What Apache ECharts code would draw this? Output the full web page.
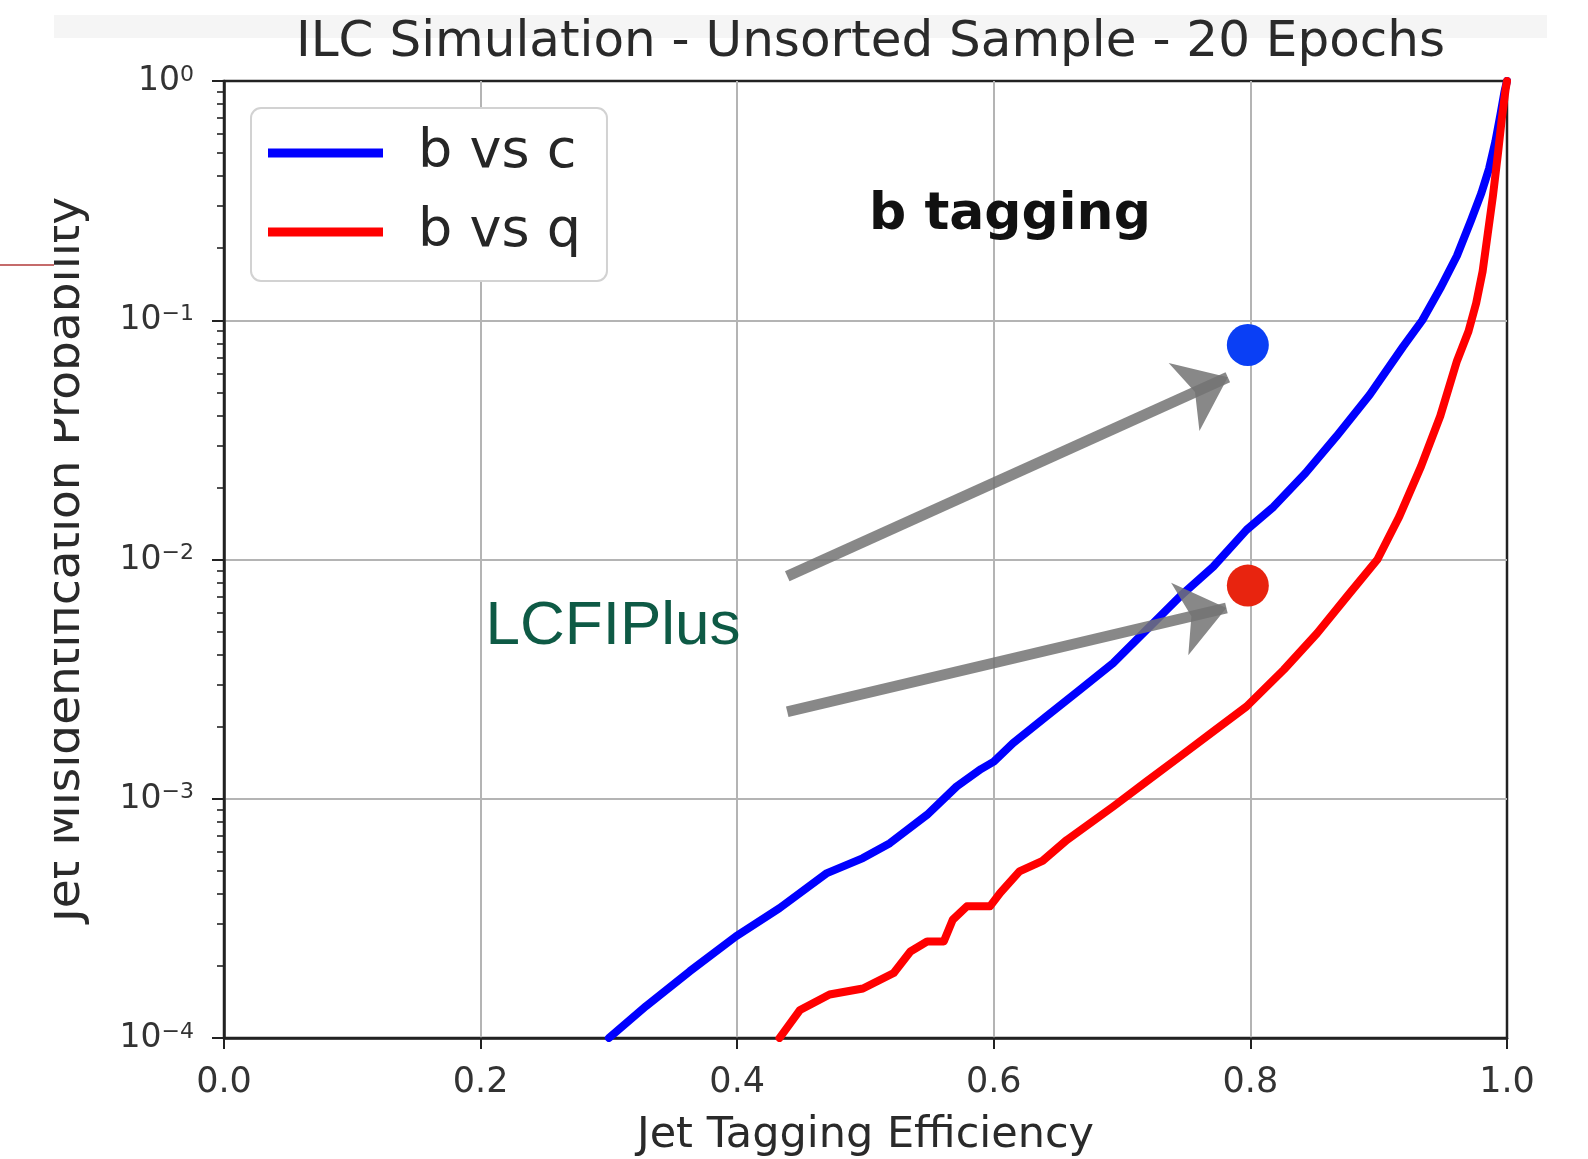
<!DOCTYPE html>
<html>
<head>
<meta charset="utf-8">
<script src="https://cdn.jsdelivr.net/npm/echarts@6/dist/echarts.min.js"></script>
<style>
html,body{margin:0;padding:0;background:#ffffff;}
#chart{width:1588px;height:1159px;}
</style>
</head>
<body>
<div id="chart"></div>
<script>
// ---- data ----
const titleText = 'ILC Simulation - Unsorted Sample - 20 Epochs';
const xName = 'Jet Tagging Efficiency';
const yName = 'Jet Misidentification Probability';
const seriesNames = ['b vs c', 'b vs q'];
const xTicks = [0, 0.2, 0.4, 0.6, 0.8, 1.0];
const yMajorTicks = [1e-4, 1e-3, 1e-2, 1e-1, 1];
const yMinorTicks = [];
[1e-4, 1e-3, 1e-2, 1e-1].forEach(function (d) { for (let k = 2; k <= 9; k++) yMinorTicks.push(+(d * k).toPrecision(3)); });

const bvsc = [
  [0.300, 1.0e-4], [0.329, 1.36e-4], [0.363, 1.90e-4], [0.399, 2.66e-4], [0.433, 3.49e-4],
  [0.470, 4.89e-4], [0.498, 5.65e-4], [0.519, 6.52e-4], [0.548, 8.57e-4], [0.571, 1.125e-3],
  [0.590, 1.33e-3], [0.600, 1.43e-3], [0.615, 1.71e-3], [0.641, 2.21e-3], [0.667, 2.85e-3],
  [0.693, 3.69e-3], [0.719, 5.08e-3], [0.745, 7.00e-3], [0.771, 9.33e-3], [0.797, 1.33e-2],
  [0.818, 1.66e-2], [0.843, 2.30e-2], [0.867, 3.27e-2], [0.893, 4.88e-2], [0.919, 7.76e-2],
  [0.934, 0.100], [0.948, 0.136], [0.961, 0.186], [0.972, 0.262], [0.980, 0.34],
  [0.986, 0.43], [0.991, 0.56], [0.995, 0.73], [0.998, 0.90], [1.0, 1.0]
];
const bvsq = [
  [0.433, 1.0e-4], [0.449, 1.31e-4], [0.472, 1.52e-4], [0.498, 1.61e-4], [0.522, 1.87e-4],
  [0.535, 2.30e-4], [0.548, 2.53e-4], [0.561, 2.53e-4], [0.568, 3.12e-4], [0.579, 3.55e-4],
  [0.597, 3.55e-4], [0.605, 4.04e-4], [0.620, 4.97e-4], [0.638, 5.50e-4], [0.657, 6.73e-4],
  [0.693, 9.27e-4], [0.719, 1.18e-3], [0.745, 1.50e-3], [0.771, 1.91e-3], [0.797, 2.43e-3],
  [0.826, 3.46e-3], [0.852, 4.92e-3], [0.876, 7.08e-3], [0.899, 1.0e-2], [0.916, 1.51e-2],
  [0.933, 2.45e-2], [0.948, 3.98e-2], [0.961, 6.76e-2], [0.970, 0.090], [0.976, 0.118],
  [0.981, 0.16], [0.985, 0.23], [0.989, 0.33], [0.993, 0.50], [0.996, 0.70], [0.999, 0.93], [1.0, 1.0]
];
const lcfiBvsc = [0.798, 0.0788];
const lcfiBvsq = [0.798, 0.00778];
const arrowStarts = [[0.439, 8.51e-3], [0.439, 2.31e-3]];
const arrowTips = [[0.7824, 0.0578], [0.7813, 6.27e-3]];
const lcfiLabel = { text: 'LCFIPlus', at: [0.3032, 5.23e-3] };
const tagLabel = { text: 'b tagging', at: [0.6126, 0.275] };

// ---- chart ----
const chart = echarts.init(document.getElementById('chart'), null, { renderer: 'canvas' });
const FONT = 'DejaVu Sans';
const GRID = { left: 224, top: 81, width: 1283, height: 957 };

function supLabel(v) {
  const e = Math.round(Math.log10(v));
  return '{b|10}{s|' + (e < 0 ? '\u2212' + (-e) : String(e)) + '}';
}

const option = {
  backgroundColor: '#ffffff',
  animation: false,
  title: {
    text: titleText,
    left: GRID.left + GRID.width / 2,
    textAlign: 'center',
    top: 13,
    textStyle: { fontFamily: FONT, fontSize: 50, fontWeight: 'normal', color: '#2a2a2a' }
  },
  legend: {
    data: seriesNames,
    orient: 'vertical',
    left: 251, top: 108,
    icon: 'rect',
    itemWidth: 115, itemHeight: 9,
    itemGap: 17,
    padding: [14, 26, 18, 17],
    backgroundColor: '#ffffff',
    borderColor: '#d2d2d2', borderWidth: 2, borderRadius: 10,
    textStyle: { fontFamily: FONT, fontSize: 54, color: '#262626', lineHeight: 62, padding: [0, 0, 0, 30] },
    selectedMode: false
  },
  grid: {
    left: GRID.left, top: GRID.top, width: GRID.width, height: GRID.height,
    outerBoundsMode: 'none', containLabel: false,
    show: true, borderColor: '#222', borderWidth: 2.5, backgroundColor: '#ffffff'
  },
  xAxis: {
    type: 'value', min: 0, max: 1, interval: 0.2,
    name: xName, nameLocation: 'middle', nameGap: 76,
    nameTextStyle: { fontFamily: FONT, fontSize: 43, color: '#2a2a2a' },
    axisLine: { show: true, lineStyle: { color: '#222', width: 2.5 } },
    axisTick: { show: true, inside: false, length: 11, lineStyle: { color: '#222', width: 2 } },
    axisLabel: { margin: 27, fontFamily: FONT, fontSize: 35, color: '#333',
      formatter: function (v) { return v.toFixed(1); } },
    splitLine: { show: true, showMaxLine: false, showMinLine: false, lineStyle: { color: '#b4b4b4', width: 2 } }
  },
  yAxis: [{
    type: 'log', logBase: 10, min: 1e-4, max: 1,
    name: yName, nameLocation: 'middle', nameGap: 134,
    nameTextStyle: { fontFamily: FONT, fontSize: 47, color: '#2a2a2a' },
    axisLine: { show: true, lineStyle: { color: '#222', width: 2.5 } },
    axisTick: { show: true, inside: false, length: 12, lineStyle: { color: '#222', width: 2 } },
    axisLabel: {
      margin: 30, formatter: supLabel,
      rich: {
        b: { fontFamily: FONT, fontSize: 33, color: '#333', lineHeight: 34, verticalAlign: 'bottom', padding: [6, 0, 0, 0] },
        s: { fontFamily: FONT, fontSize: 22, color: '#333', lineHeight: 23, verticalAlign: 'top' }
      }
    },
    splitLine: { show: true, showMaxLine: false, showMinLine: false, lineStyle: { color: '#b4b4b4', width: 2 } }
  }, {
    type: 'log', logBase: 10, min: 1e-4, max: 1, position: 'left',
    axisLine: { show: false },
    axisLabel: { show: false },
    splitLine: { show: false },
    axisTick: { show: true, inside: false, length: 7, customValues: yMinorTicks,
      lineStyle: { color: '#222', width: 1.6 } }
  }],
  series: [
    { name: seriesNames[0], type: 'line', data: bvsc, showSymbol: false, symbol: 'none',
      smooth: false,
      lineStyle: { color: '#0000ff', width: 8, join: 'round', cap: 'round' }, itemStyle: { color: '#0000ff' }, z: 3 },
    { name: seriesNames[1], type: 'line', data: bvsq, showSymbol: false, symbol: 'none',
      smooth: false,
      lineStyle: { color: '#ff0000', width: 8, join: 'round', cap: 'round' }, itemStyle: { color: '#ff0000' }, z: 3 },
    { name: 'LCFIPlus b vs c', type: 'scatter', data: [lcfiBvsc], symbolSize: 42,
      itemStyle: { color: '#0a3ff5', opacity: 1 }, z: 4, silent: true },
    { name: 'LCFIPlus b vs q', type: 'scatter', data: [lcfiBvsq], symbolSize: 42,
      itemStyle: { color: '#e8240f', opacity: 1 }, z: 4, silent: true },
    { name: 'annotations', type: 'scatter', silent: true, z: 5,
      symbolSize: 1, itemStyle: { color: 'rgba(0,0,0,0)', opacity: 1 },
      data: [
        { value: lcfiLabel.at, label: { show: true, position: 'inside', formatter: lcfiLabel.text,
          fontFamily: 'Liberation Sans', fontSize: 62, color: '#0e5a45' } },
        { value: tagLabel.at, label: { show: true, position: 'inside', formatter: tagLabel.text,
          fontFamily: FONT, fontSize: 52, fontWeight: 'bold', color: '#111' } }
      ],
      markLine: {
        silent: true, animation: false,
        symbol: ['none', 'arrow'], symbolSize: [56, 48],
        label: { show: false },
        lineStyle: { color: 'rgba(115,115,115,0.85)', width: 11, type: 'solid', opacity: 1 },
        data: arrowStarts.map(function (s, i) {
          return [{ coord: s }, { coord: arrowTips[i] }];
        })
      }
    }
  ],
  graphic: [
    { type: 'rect', z: -1, shape: { x: 54, y: 15, width: 1493, height: 23 }, style: { fill: '#f5f5f5' } },
    { type: 'rect', z: 100, shape: { x: 0, y: 0, width: 54, height: 1159 }, style: { fill: '#ffffff' } },
    { type: 'line', z: 101, shape: { x1: 0, y1: 265, x2: 54, y2: 265 }, style: { stroke: '#b23a3a', lineWidth: 1.5 } }
  ]
};
chart.setOption(option);
</script>
</body>
</html>
